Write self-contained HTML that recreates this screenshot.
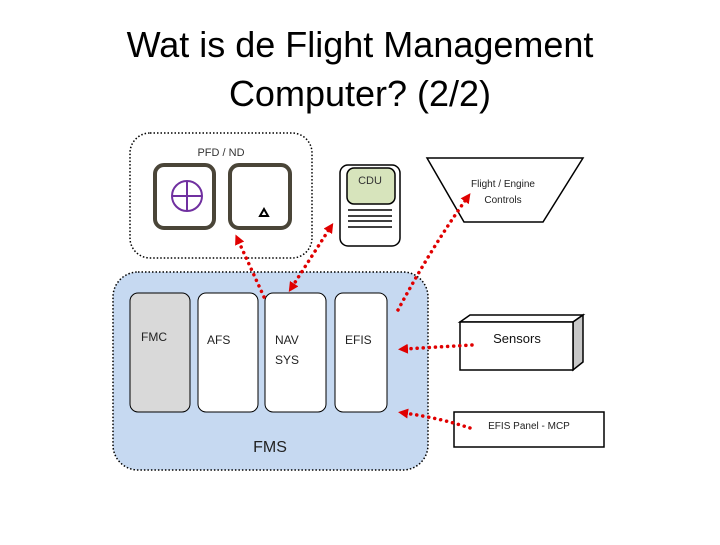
<!DOCTYPE html>
<html><head><style>
body{margin:0;background:#fff;}
.t{font-family:"Liberation Sans",sans-serif;}
</style></head><body>
<svg width="720" height="540" viewBox="0 0 720 540" xmlns="http://www.w3.org/2000/svg">
<defs>
<marker id="ah" markerWidth="10" markerHeight="10" refX="4" refY="5" orient="auto" markerUnits="userSpaceOnUse"><path d="M0,0 L10,5 L0,10 Z" fill="#e00000"/></marker>
<marker id="as" markerWidth="10" markerHeight="10" refX="6" refY="5" orient="auto" markerUnits="userSpaceOnUse"><path d="M10,0 L0,5 L10,10 Z" fill="#e00000"/></marker>
</defs>
<text x="360" y="57" text-anchor="middle" font-family="Liberation Sans, sans-serif" font-size="36" fill="#000">Wat is de Flight Management</text>
<text x="360" y="106" text-anchor="middle" font-family="Liberation Sans, sans-serif" font-size="36" fill="#000">Computer? (2/2)</text>

<rect x="130" y="133" width="182" height="125" rx="20" fill="#fff" stroke="#000" stroke-width="1.5" stroke-dasharray="1.5,2"/>
<text x="221" y="156" text-anchor="middle" class="t" font-size="11" fill="#333">PFD / ND</text>
<rect x="155" y="165" width="59" height="63" rx="9" fill="#fff" stroke="#4a4538" stroke-width="4"/>
<rect x="230" y="165" width="60" height="63" rx="9" fill="#fff" stroke="#4a4538" stroke-width="4"/>
<circle cx="187" cy="196" r="15" fill="none" stroke="#7030a0" stroke-width="2"/>
<line x1="172" y1="196" x2="202" y2="196" stroke="#7030a0" stroke-width="2"/>
<line x1="187" y1="181" x2="187" y2="211" stroke="#7030a0" stroke-width="2"/>
<path d="M260,216 L264,209 L268,216 Z" fill="none" stroke="#000" stroke-width="2"/>

<rect x="340" y="165" width="60" height="81" rx="8" fill="#fff" stroke="#000" stroke-width="1.5"/>
<rect x="347" y="168" width="48" height="36" rx="7" fill="#d7e4bc" stroke="#000" stroke-width="1.5"/>
<text x="370" y="184" text-anchor="middle" class="t" font-size="11" fill="#333">CDU</text>
<line x1="348" y1="210" x2="392" y2="210" stroke="#000" stroke-width="1.5"/>
<line x1="348" y1="216" x2="392" y2="216" stroke="#000" stroke-width="1.5"/>
<line x1="348" y1="221" x2="392" y2="221" stroke="#000" stroke-width="1.5"/>
<line x1="348" y1="227" x2="392" y2="227" stroke="#000" stroke-width="1.5"/>

<path d="M427,158 L583,158 L543,222 L464,222 Z" fill="#fff" stroke="#000" stroke-width="1.5"/>
<text x="503" y="187" text-anchor="middle" class="t" font-size="10" fill="#222">Flight / Engine</text>
<text x="503" y="203" text-anchor="middle" class="t" font-size="10" fill="#222">Controls</text>

<rect x="113" y="272" width="315" height="198" rx="25" fill="#c6d9f1" stroke="#000" stroke-width="1.5" stroke-dasharray="1.5,2"/>
<rect x="130" y="293" width="60" height="119" rx="8" fill="#d9d9d9" stroke="#000" stroke-width="1"/>
<rect x="198" y="293" width="60" height="119" rx="8" fill="#fff" stroke="#000" stroke-width="1"/>
<rect x="265" y="293" width="61" height="119" rx="8" fill="#fff" stroke="#000" stroke-width="1"/>
<rect x="335" y="293" width="52" height="119" rx="8" fill="#fff" stroke="#000" stroke-width="1"/>
<text x="141" y="341" class="t" font-size="12" fill="#222">FMC</text>
<text x="207" y="344" class="t" font-size="12" fill="#222">AFS</text>
<text x="275" y="344" class="t" font-size="12" fill="#222">NAV</text>
<text x="275" y="364" class="t" font-size="12" fill="#222">SYS</text>
<text x="345" y="344" class="t" font-size="12" fill="#222">EFIS</text>
<text x="270" y="452" text-anchor="middle" class="t" font-size="16" fill="#222">FMS</text>

<path d="M460,322 L470,315 L583,315 L573,322 Z" fill="#fff" stroke="#000" stroke-width="1.5"/>
<path d="M573,322 L583,315 L583,362 L573,370 Z" fill="#c8c8c8" stroke="#000" stroke-width="1.5"/>
<rect x="460" y="322" width="113" height="48" fill="#fff" stroke="#000" stroke-width="1.5"/>
<text x="517" y="343" text-anchor="middle" class="t" font-size="13" fill="#111">Sensors</text>
<rect x="454" y="412" width="150" height="35" fill="#fff" stroke="#000" stroke-width="1.5"/>
<text x="529" y="429" text-anchor="middle" class="t" font-size="10" fill="#222">EFIS Panel - MCP</text>

<g stroke="#e00000" stroke-width="3.5" stroke-dasharray="0.1,6" fill="none" stroke-linecap="round">
<path d="M264,297 L238,240" marker-end="url(#ah)"/>
<path d="M292,287 L330,228" marker-end="url(#ah)" marker-start="url(#as)"/>
<path d="M398,310 Q430,250 467,198" marker-end="url(#ah)"/>
<path d="M472,345 L404,349" marker-end="url(#ah)"/>
<path d="M470,428 Q440,418 404,413" marker-end="url(#ah)"/>
</g>
</svg>
</body></html>
